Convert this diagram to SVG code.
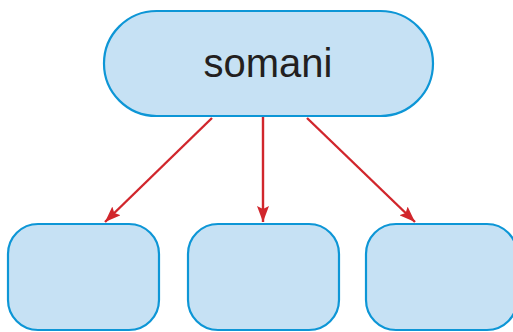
<svg xmlns="http://www.w3.org/2000/svg" width="513" height="332" viewBox="0 0 513 332">
<defs>
<style>
.node{fill:#c6e1f4;stroke:#0d96d6;stroke-width:2.2}
.edge{stroke:#d1262c;stroke-width:2.4;fill:none}
.lbl{font-family:"Liberation Sans",Arial,sans-serif;font-size:40px;fill:#231f20;text-anchor:middle}
</style>
<marker id="ah" viewBox="0 0 16 12" refX="16" refY="6" markerWidth="16" markerHeight="12" markerUnits="userSpaceOnUse" orient="auto">
<path d="M0,0 L16,6 L0,12 L3,6 Z" fill="#d1262c"/>
</marker>
</defs>
<g id="edges">
<line class="edge" x1="212" y1="118" x2="105" y2="222" marker-end="url(#ah)"/>
<line class="edge" x1="263" y1="117" x2="263" y2="222" marker-end="url(#ah)"/>
<line class="edge" x1="307" y1="118" x2="415" y2="222" marker-end="url(#ah)"/>
</g>
<g id="root">
<rect class="node" x="104" y="11" width="329" height="105" rx="52.5"/>
<text class="lbl" x="268" y="77">somani</text>
</g>
<g id="child1"><rect class="node" x="8" y="224" width="151" height="106" rx="30"/></g>
<g id="child2"><rect class="node" x="188" y="224" width="151" height="106" rx="30"/></g>
<g id="child3"><rect class="node" x="366" y="224" width="151" height="106" rx="30"/></g>
</svg>
